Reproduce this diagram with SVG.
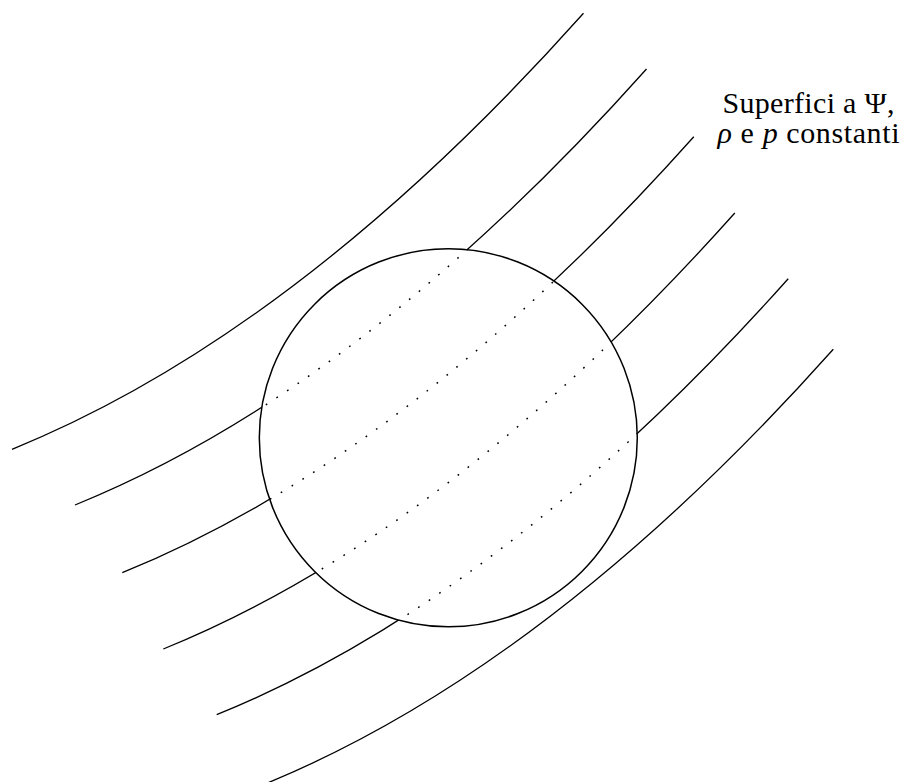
<svg xmlns="http://www.w3.org/2000/svg" xmlns:xlink="http://www.w3.org/1999/xlink" width="903" height="782" viewBox="0 0 903 782">
<style>
.solid{fill:none;stroke:#000;stroke-width:1.3}
.dot{fill:none;stroke:#000;stroke-width:1.5;stroke-dasharray:1.7 11}
.ring{fill:none;stroke:#000;stroke-width:1.5}
.lbl{font-family:"Liberation Serif","DejaVu Serif",serif;font-size:30px;fill:#000;text-anchor:middle}
</style>
<defs>
<path id="c1" d="M12 449.3 q285.75 -116 571.5 -436"/>
<path id="c2" d="M75 505 q285.75 -116 571.5 -436"/>
<path id="c3" d="M122.3 572.7 q285.75 -116 571.5 -436"/>
<path id="c4" d="M163.3 649 q285.75 -116 571.5 -436"/>
<path id="c5" d="M216.7 714.7 q285.75 -116 571.5 -436"/>
<path id="c6" d="M261.8 785.3 q285.75 -116 571.5 -436"/>
<clipPath id="inside"><circle cx="448.3" cy="437.8" r="189"/></clipPath>
<clipPath id="outside"><path clip-rule="evenodd" d="M0 0H903V782H0Z M259.3 437.8a189 189 0 1 0 378 0a189 189 0 1 0 -378 0Z"/></clipPath>
</defs>
<g id="connectors">
<g id="surfaces-solid" clip-path="url(#outside)">
<use xlink:href="#c1" href="#c1" class="solid"/>
<use xlink:href="#c2" href="#c2" class="solid"/>
<use xlink:href="#c3" href="#c3" class="solid"/>
<use xlink:href="#c4" href="#c4" class="solid"/>
<use xlink:href="#c5" href="#c5" class="solid"/>
<use xlink:href="#c6" href="#c6" class="solid"/>
</g>
<g id="surfaces-dotted" clip-path="url(#inside)">
<use xlink:href="#c2" href="#c2" class="dot"/>
<use xlink:href="#c3" href="#c3" class="dot"/>
<use xlink:href="#c4" href="#c4" class="dot"/>
<use xlink:href="#c5" href="#c5" class="dot"/>
</g>
</g>
<g id="sphere">
<circle class="ring" cx="448.3" cy="437.8" r="189"/>
</g>
<g id="label">
<text class="lbl" x="808.5" y="113" textLength="172">Superfici a Ψ,</text>
<text class="lbl" x="808.5" y="143" textLength="182"><tspan font-style="italic">ρ</tspan> e <tspan font-style="italic">p</tspan> constanti</text>
</g>
</svg>
